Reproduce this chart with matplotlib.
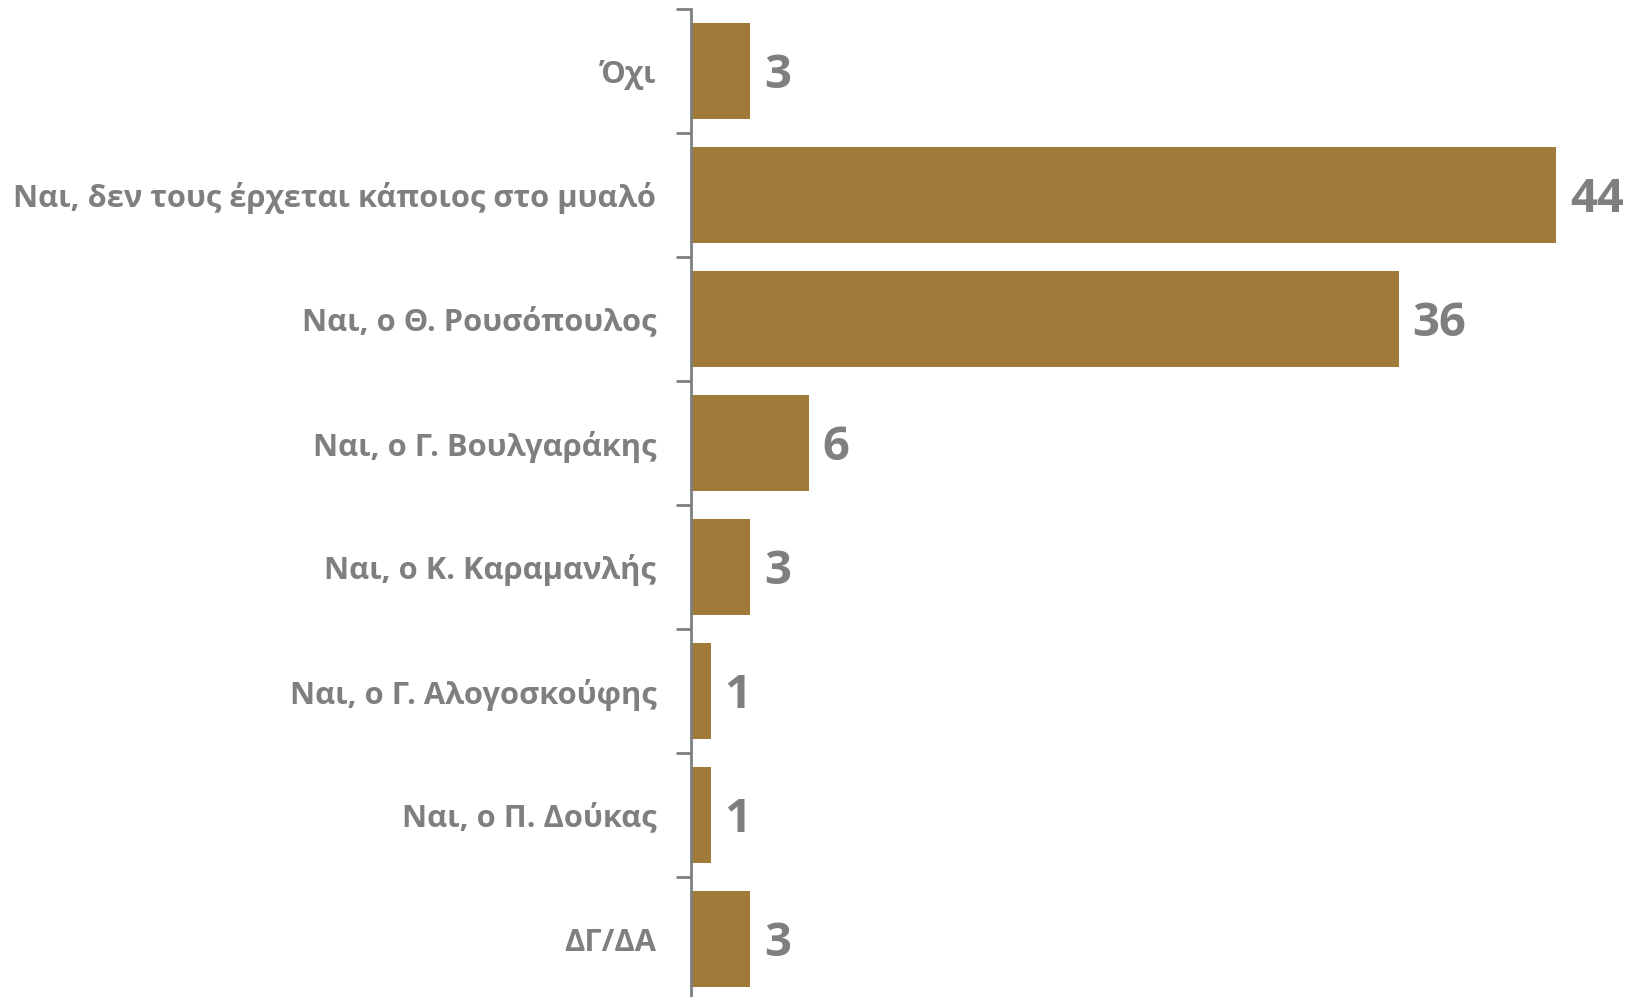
import matplotlib
matplotlib.use("Agg")
import matplotlib.pyplot as plt

categories = ["Όχι", "Ναι, δεν τους έρχεται κάποιος στο μυαλό", "Ναι, ο Θ. Ρουσόπουλος",
              "Ναι, ο Γ. Βουλγαράκης", "Ναι, ο Κ. Καραμανλής", "Ναι, ο Γ. Αλογοσκούφης",
              "Ναι, ο Π. Δούκας", "ΔΓ/ΔΑ"]
values = [3, 44, 36, 6, 3, 1, 1, 3]

bar_color = "#A07A38"
text_color = "#7F7F7F"

plt.rcParams['font.family'] = ['Open Sans', 'DejaVu Sans']

W, H = 1629, 997
fig = plt.figure(figsize=(W / 100, H / 100), dpi=100)
left = 691 / W
top = 1 - 9 / H
bottom = -4 / H
ax = fig.add_axes([left, bottom, 1 - left, top - bottom])

n = len(categories)
ypos = list(range(n))
ax.barh(ypos, values, height=0.775, color=bar_color, zorder=2)
ax.set_ylim(n - 0.5, -0.5)
ax.set_xlim(0, 938 / 19.66)

for y, v in zip(ypos, values):
    ax.annotate(str(v), xy=(v, y), xytext=(10, -3), textcoords="offset points",
                ha="left", va="center", fontsize=34, fontweight="bold", color=text_color)

ax.set_yticks([i - 0.5 for i in range(n)] + [n - 0.5])
ax.set_yticklabels([])
ax.set_yticks(ypos, minor=True)
ax.set_yticklabels(categories, minor=True, fontsize=22.2, fontweight="bold", color=text_color)
for lbl in ax.get_yticklabels(minor=True):
    lbl.set_y(lbl.get_position()[1])
ax.tick_params(axis="y", which="major", direction="out", length=11, width=2, color=text_color)
ax.tick_params(axis="y", which="minor", length=0, pad=25)
ax.set_xticks([])
for s in ["top", "right", "bottom"]:
    ax.spines[s].set_visible(False)
ax.spines["left"].set_color(text_color)
ax.spines["left"].set_linewidth(2)

fig.savefig("out.png", dpi=100)
